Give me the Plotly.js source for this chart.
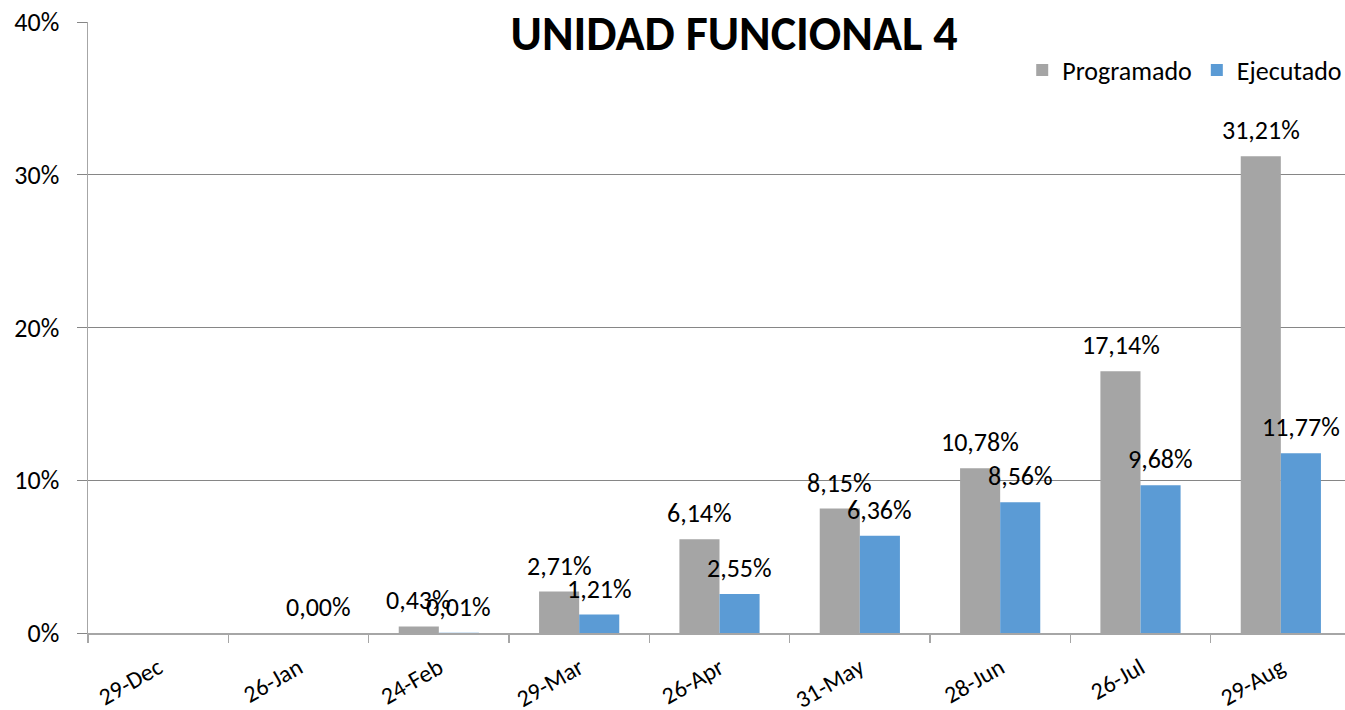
<!DOCTYPE html>
<html>
<head>
<meta charset="utf-8">
<script src="https://cdn.plot.ly/plotly-3.0.1.min.js"></script>
<style>
html,body{margin:0;padding:0;overflow:hidden;background:#fff;}
#chart{width:1351px;height:710px;}
</style>
</head>
<body>
<div id="chart"></div>
<script>
const categories = ['29-Dec','26-Jan','24-Feb','29-Mar','26-Apr','31-May','28-Jun','26-Jul','29-Aug'];
const programado = [null, null, 0.43, 2.71, 6.14, 8.15, 10.78, 17.14, 31.21];
const ejecutado  = [null, 0.00, 0.01, 1.21, 2.55, 6.36, 8.56, 9.68, 11.77];
const yTicks = [0, 10, 20, 30, 40];

const FONT = 'Carlito, Lato, sans-serif';
const fmt = v => v.toFixed(2).replace('.', ',') + '%';

const annotations = [];
function addLabels(vals, shift) {
  vals.forEach((v, i) => {
    if (v === null) return;
    annotations.push({
      x: categories[i], y: v, xref: 'x', yref: 'y',
      text: fmt(v), showarrow: false,
      xshift: shift, yshift: 26, yanchor: 'middle', xanchor: 'center',
      font: {family: FONT, size: 26, color: '#000'}
    });
  });
}
addLabels(programado, -20);
addLabels(ejecutado, 20);

const traces = [
  {type: 'bar', name: 'Programado', x: categories, y: programado,
   marker: {color: '#A5A5A5'}, hoverinfo: 'none'},
  {type: 'bar', name: 'Ejecutado', x: categories, y: ejecutado,
   marker: {color: '#5B9BD5'}, hoverinfo: 'none'}
];

const layout = {
  width: 1351, height: 710,
  margin: {l: 88, r: 0, t: 22, b: 77, autoexpand: false},
  paper_bgcolor: '#fff', plot_bgcolor: '#fff',
  barmode: 'group', bargap: 0.4286, bargroupgap: 0,
  font: {family: FONT, size: 26, color: '#000'},
  title: {
    text: '<b>UNIDAD FUNCIONAL 4</b>',
    font: {family: FONT, size: 48, color: '#000'},
    xref: 'paper', x: 0.5115, xanchor: 'center',
    yref: 'container', y: 1 - 33/710, yanchor: 'middle', automargin: false
  },
  showlegend: true,
  legend: {
    orientation: 'h', xref: 'paper', x: 0.997, xanchor: 'right',
    yref: 'paper', y: (633 - 70) / 611, yanchor: 'middle',
    font: {family: FONT, size: 26, color: '#000'},
    bgcolor: 'rgba(0,0,0,0)', traceorder: 'normal',
    itemwidth: 30
  },
  xaxis: {
    type: 'category', categoryarray: categories,
    showgrid: false, showline: true, linecolor: '#A6A6A6', linewidth: 1.5,
    ticks: 'outside', ticklen: 8, tickcolor: '#A6A6A6', tickwidth: 1.5,
    tickson: 'boundaries', tickangle: -30,
    tickfont: {family: FONT, size: 24, color: '#000'},
    ticklabelstandoff: 10,
    automargin: false,
    fixedrange: true
  },
  yaxis: {
    range: [0, 40], tickvals: yTicks, ticktext: yTicks.map(v => v + '%'),
    showgrid: true, gridcolor: '#868686', gridwidth: 1,
    showline: true, linecolor: '#A6A6A6', linewidth: 1.5,
    ticks: 'outside', ticklen: 10, tickcolor: '#868686',
    tickfont: {family: FONT, size: 26, color: '#000'},
    ticklabelstandoff: 12,
    automargin: false,
    zeroline: false, fixedrange: true
  },
  annotations: annotations
};

Plotly.newPlot('chart', traces, layout, {displayModeBar: false, staticPlot: true});
</script>
</body>
</html>
